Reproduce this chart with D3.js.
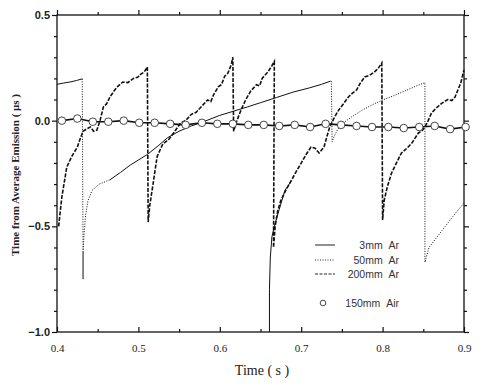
<!DOCTYPE html>
<html><head><meta charset="utf-8">
<script src="https://cdn.jsdelivr.net/npm/d3@7"></script>
<style>body{margin:0;background:#fff}</style>
</head><body><svg id="chart"></svg>
<script>
const width = 496, height = 388;

// tick values
const xMajor = [0.4, 0.5, 0.6, 0.7, 0.8, 0.9];
const xMinor = [0.45, 0.55, 0.65, 0.75, 0.85];
const yMajor = [0.5, 0.0, -0.5, -1.0];
const yMinor = [0.4, 0.3, 0.2, 0.1, -0.1, -0.2, -0.3, -0.4, -0.6, -0.7, -0.8, -0.9];

// 3mm Ar (solid), null = gap
const ar3 = [[0.400,0.172],[0.408,0.178],[0.416,0.183],[0.424,0.19],[0.431,0.198], null,
  [0.432,-0.75],[0.432,-0.62], null,
  [0.465,-0.28],[0.478,-0.245],[0.49,-0.21],[0.511,-0.16],[0.524,-0.12],[0.536,-0.08],[0.55,-0.05],
  [0.565,-0.025],[0.58,-0.005],[0.6,0.025],[0.617,0.045],[0.634,0.065],[0.65,0.085],[0.67,0.11],
  [0.69,0.135],[0.71,0.155],[0.725,0.172],[0.736,0.187], null,
  [0.661,-1.0],[0.661,-0.8],[0.662,-0.65],[0.664,-0.55],[0.667,-0.5],[0.673,-0.42],[0.68,-0.33],[0.687,-0.29]];

// 50mm Ar (dotted)
const ar50 = [[0.431,0.198],[0.432,-0.62],[0.433,-0.55],[0.435,-0.45],[0.438,-0.38],[0.443,-0.33],
  [0.452,-0.30],[0.465,-0.28], null,
  [0.737,0.187],[0.738,-0.1],[0.741,-0.07],[0.745,-0.04],[0.752,-0.01],[0.762,0.018],[0.775,0.05],
  [0.79,0.08],[0.8,0.098],[0.815,0.12],[0.83,0.145],[0.842,0.165],[0.852,0.18],
  [0.852,-0.67],[0.857,-0.6],[0.865,-0.56],[0.873,-0.52],[0.881,-0.48],[0.889,-0.44],[0.9,-0.39]];

// 200mm Ar (dashed, noisy)
const ar200 = [[0.402,-0.50],[0.406,-0.36],[0.409,-0.29],[0.412,-0.22],[0.418,-0.17],[0.425,-0.125],
  [0.429,-0.08],[0.432,-0.05],[0.436,-0.04],[0.441,-0.03],[0.445,-0.05],[0.449,-0.045],[0.453,0.003],
  [0.457,0.065],[0.461,0.08],[0.465,0.112],[0.47,0.14],[0.474,0.16],[0.481,0.183],[0.487,0.18],
  [0.494,0.2],[0.499,0.205],[0.503,0.22],[0.507,0.23],[0.511,0.254],
  [0.512,-0.48],[0.514,-0.40],[0.518,-0.30],[0.523,-0.17],[0.530,-0.11],[0.537,-0.09],[0.543,-0.06],
  [0.552,-0.01],[0.558,0.0],[0.565,0.03],[0.571,0.04],[0.577,0.065],[0.585,0.098],[0.589,0.09],
  [0.592,0.12],[0.598,0.16],[0.602,0.17],[0.606,0.21],[0.61,0.225],[0.614,0.264],[0.616,0.30],
  [0.617,-0.05],[0.621,0.0],[0.626,0.05],[0.632,0.10],[0.638,0.14],[0.645,0.17],[0.649,0.165],
  [0.652,0.2],[0.659,0.23],[0.664,0.26],[0.667,0.28],
  [0.666,-0.6],[0.668,-0.5],[0.671,-0.43],[0.675,-0.377],[0.681,-0.33],[0.688,-0.282],[0.694,-0.24],
  [0.70,-0.201],[0.706,-0.16],[0.712,-0.125],[0.717,-0.13],[0.722,-0.153],[0.728,-0.125],[0.732,-0.07],
  [0.735,-0.03],[0.741,0.017],[0.746,0.05],[0.752,0.08],[0.758,0.112],[0.763,0.13],[0.768,0.145],
  [0.773,0.18],[0.778,0.207],[0.784,0.215],[0.79,0.23],[0.795,0.25],[0.799,0.273],
  [0.80,-0.47],[0.802,-0.376],[0.806,-0.31],[0.811,-0.248],[0.817,-0.2],[0.823,-0.154],[0.83,-0.13],
  [0.836,-0.106],[0.844,-0.058],[0.848,-0.05],[0.852,-0.03],[0.856,0.0],[0.86,0.036],[0.866,0.06],
  [0.873,0.083],[0.88,0.1],[0.885,0.095],[0.889,0.112],[0.893,0.15],[0.896,0.178],[0.9,0.24]];

// 150mm Air (circles)
const airX = [0.406,0.425,0.444,0.463,0.482,0.501,0.520,0.539,0.558,0.578,0.597,0.616,0.635,0.654,
  0.673,0.692,0.711,0.730,0.749,0.768,0.787,0.807,0.826,0.845,0.864,0.883,0.902];
const airY = [0.0,0.01,-0.005,-0.005,0.0,-0.01,-0.01,-0.015,-0.02,-0.01,-0.015,-0.015,-0.02,-0.02,
  -0.025,-0.02,-0.03,-0.015,-0.02,-0.025,-0.03,-0.03,-0.035,-0.03,-0.025,-0.04,-0.03];

const legendNames = ["3mm Ar", "50mm Ar", "200mm Ar", "150mm Air"];

const svg = d3.select('#chart').attr('width', width).attr('height', height)
  .style('font-family', '"Liberation Serif", "DejaVu Serif", serif');

const x = d3.scaleLinear().domain([0.4, 0.9]).range([57, 464]);
const y = d3.scaleLinear().domain([-1.0, 0.5]).range([332, 15]);

// frame
svg.append('rect').attr('x', 57).attr('y', 15).attr('width', 407).attr('height', 317)
  .attr('fill', 'none').attr('stroke', '#111').attr('stroke-width', 1.3);

function axisStyle(g) {
  g.select('.domain').remove();
  g.selectAll('line').attr('stroke', '#111').attr('stroke-width', 1.2);
}

// bottom (ticks point inward)
svg.append('g').attr('transform', 'translate(0,332)')
  .call(d3.axisBottom(x).tickValues(xMajor).tickSizeInner(-5).tickPadding(12).tickFormat(d3.format('.1f')))
  .call(axisStyle)
  .selectAll('text').attr('font-size', 11).attr('fill', '#222')
  .attr('font-family', '"Liberation Serif", serif');
svg.append('g').attr('transform', 'translate(0,332)')
  .call(d3.axisBottom(x).tickValues(xMinor).tickSizeInner(-3).tickFormat(''))
  .call(axisStyle);

// top
svg.append('g').attr('transform', 'translate(0,15)')
  .call(d3.axisTop(x).tickValues(xMajor).tickSizeInner(5).tickFormat('')).call(axisStyle);
svg.append('g').attr('transform', 'translate(0,15)')
  .call(d3.axisTop(x).tickValues(xMinor).tickSizeInner(3).tickFormat('')).call(axisStyle);

// left
svg.append('g').attr('transform', 'translate(57,0)')
  .call(d3.axisLeft(y).tickValues(yMajor).tickSizeInner(5).tickPadding(2).tickFormat(d3.format('.1f')))
  .call(axisStyle)
  .selectAll('text').attr('font-size', 11).attr('font-weight', 'bold').attr('fill', '#222')
  .text(d => d === 0 ? '0.0' : d3.format('.1f')(d));
svg.append('g').attr('transform', 'translate(57,0)')
  .call(d3.axisLeft(y).tickValues(yMinor).tickSizeInner(3).tickFormat('')).call(axisStyle);

// right
svg.append('g').attr('transform', 'translate(464,0)')
  .call(d3.axisRight(y).tickValues(yMajor).tickSizeInner(5).tickFormat('')).call(axisStyle);
svg.append('g').attr('transform', 'translate(464,0)')
  .call(d3.axisRight(y).tickValues(yMinor).tickSizeInner(3).tickFormat('')).call(axisStyle);

// titles
svg.append('text').attr('x', 262).attr('y', 375).attr('text-anchor', 'middle')
  .attr('font-size', 14).attr('fill', '#222').text('Time ( s )');
svg.append('text').attr('transform', 'translate(19,175) rotate(-90)').attr('text-anchor', 'middle')
  .attr('font-size', 11).attr('font-weight', 'bold').attr('fill', '#222')
  .text('Time from Average Emission ( μs )');

// series
const line = d3.line().defined(d => d !== null).x(d => x(d[0])).y(d => y(d[1]));

svg.append('path').datum(ar3).attr('d', line).attr('fill', 'none')
  .attr('stroke', '#111').attr('stroke-width', 1);
svg.append('path').datum(ar50).attr('d', line).attr('fill', 'none')
  .attr('stroke', '#111').attr('stroke-width', 1).attr('stroke-dasharray', '1,1.5');
svg.append('path').datum(ar200).attr('d', line).attr('fill', 'none')
  .attr('stroke', '#111').attr('stroke-width', 1.6).attr('stroke-dasharray', '4,1.5');

const air = airX.map((v, i) => [v, airY[i]]);
svg.append('path').datum(air).attr('d', line).attr('fill', 'none')
  .attr('stroke', '#111').attr('stroke-width', 1.6);
svg.selectAll('.air').data(air).enter().append('circle').attr('class', 'air')
  .attr('cx', d => x(d[0])).attr('cy', d => y(d[1])).attr('r', 3.8)
  .attr('fill', '#fff').attr('stroke', '#333').attr('stroke-width', 0.9);

// legend
const legY = [245, 260, 274, 303];
const dashes = [null, '1,1.5', '3,1.5'];
const leg = svg.append('g').style('font-family', '"Liberation Sans", Arial, sans-serif');
legendNames.forEach((name, i) => {
  if (i < 3) {
    leg.append('line').attr('x1', 315).attr('x2', 335).attr('y1', legY[i]).attr('y2', legY[i])
      .attr('stroke', '#222').attr('stroke-width', 1).attr('stroke-dasharray', dashes[i]);
  } else {
    leg.append('circle').attr('cx', 323).attr('cy', legY[i]).attr('r', 2.8)
      .attr('fill', '#fff').attr('stroke', '#333').attr('stroke-width', 0.9);
  }
  leg.append('text').attr('x', 399).attr('y', legY[i] + 4).attr('text-anchor', 'end')
    .attr('font-size', 10.5).attr('fill', '#333').text(name.replace(' ', '\u00a0\u00a0'));
});
</script>
</body></html>
